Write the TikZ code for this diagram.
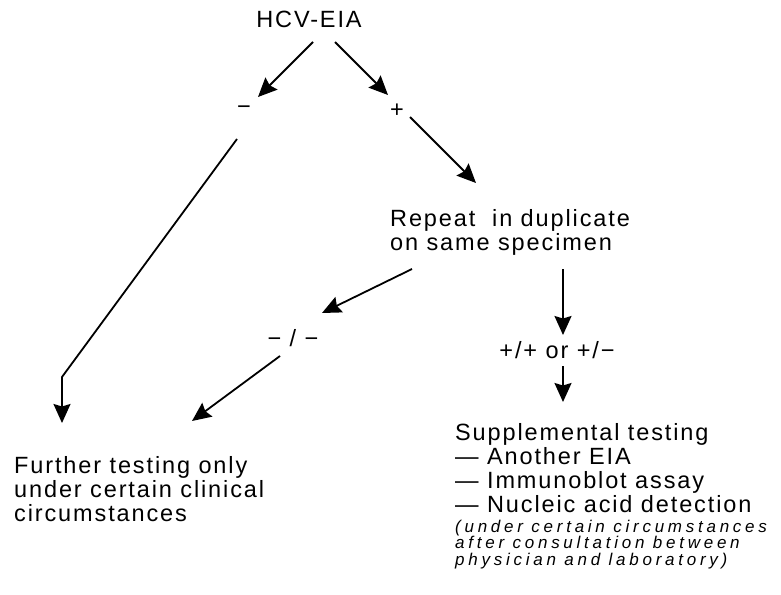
\documentclass[tikz,border=0pt]{standalone}
\usepackage{fontspec}
\setmainfont{Liberation Sans}[LetterSpace=8]
\newfontfamily\notefont{Liberation Sans}[LetterSpace=22]
\usetikzlibrary{arrows.meta}

\tikzset{
  lbl/.style={inner sep=0pt, font=\fontsize{23.5}{23.8}\selectfont},
  blk/.style={lbl, align=left, anchor=base west},
  arr/.style={line width=1.8pt, -{Stealth[length=19pt,width=17pt,inset=2.5pt]}},
}

\begin{document}
\begin{tikzpicture}[x=1pt,y=-1pt]
  \useasboundingbox (0,0) rectangle (781,594);
  \node[lbl,anchor=base] (hcv) at (309,28) {HCV-EIA};
  \node[lbl] (neg) at (244,110) {−};
  \node[lbl] (pos) at (397,111) {+};
  \node[blk] (rep) at (390,250) {Repeat\ \ in duplicate\\on same specimen};
  \node[lbl] (negneg) at (293,338) {− / −};
  \node[lbl] (pospos) at (557,350) {+/+ or +/−};
  \node[blk] (further) at (14,521) {Further testing only\\under certain clinical\\circumstances};
  \node[blk] (supp) at (455,512) {Supplemental testing\\— Another EIA\\— Immunoblot assay\\— Nucleic acid detection};
  \node[blk,font=\notefont\itshape\fontsize{17}{16.5}\selectfont] (note) at (455,565)
    {(under certain circumstances\\after consultation between\\physician and laboratory)};
  % arrow ends
  \coordinate (H1) at (313,42);
  \coordinate (N1) at (258,97);
  \coordinate (H2) at (335,42);
  \coordinate (P1) at (388,95);
  \coordinate (P2) at (410,117);
  \coordinate (R1) at (476,183);
  \coordinate (N2) at (237,139);
  \coordinate (K) at (62,377);
  \coordinate (F1) at (62,423);
  \coordinate (R2) at (412,269);
  \coordinate (D1) at (322,313);
  \coordinate (D2) at (280,356);
  \coordinate (F2) at (192,421);
  \coordinate (R3) at (563,269);
  \coordinate (O1) at (563,335);
  \coordinate (O2) at (563,366);
  \coordinate (S1) at (563,402);
  \draw[arr] (H1) -- (N1);
  \draw[arr] (H2) -- (P1);
  \draw[arr] (P2) -- (R1);
  \draw[arr] (N2) -- (K) -- (F1);
  \draw[arr] (R2) -- (D1);
  \draw[arr] (D2) -- (F2);
  \draw[arr] (R3) -- (O1);
  \draw[arr] (O2) -- (S1);
\end{tikzpicture}
\end{document}
